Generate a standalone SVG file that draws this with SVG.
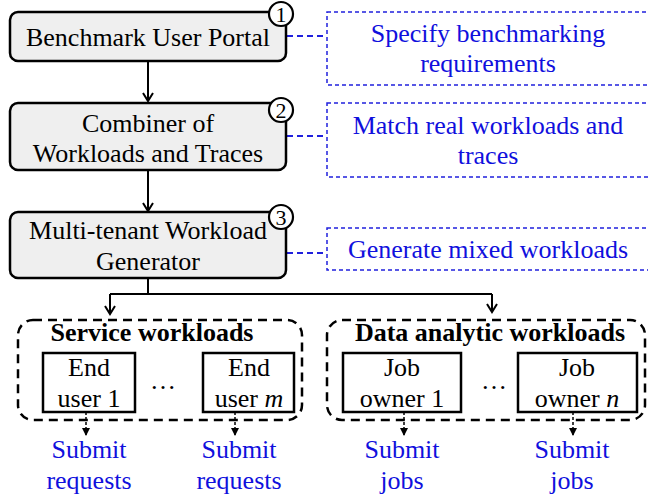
<svg xmlns="http://www.w3.org/2000/svg" width="648" height="497" viewBox="0 0 648 497">
<style>
text{font-family:'Liberation Serif','Times New Roman','DejaVu Serif',serif;font-size:26px;text-anchor:middle}
.main{fill:#efefef;stroke:#000;stroke-width:2.5}
.num{fill:#fff;stroke:#000;stroke-width:2.2}
.numt{font-size:22px}
.blue{fill:#1010dd}
.bbox{fill:none;stroke:#2020dd;stroke-width:1.5;stroke-dasharray:4 3}
.blink{fill:none;stroke:#2020dd;stroke-width:2;stroke-dasharray:6 4}
.grp{fill:none;stroke:#000;stroke-width:2.5;stroke-dasharray:9 6}
.sub{fill:#fff;stroke:#000;stroke-width:2.5}
.bold{font-weight:bold}
.conn{fill:none;stroke:#000;stroke-width:2}
.dconn{fill:none;stroke:#000;stroke-width:1.5;stroke-dasharray:3 2}
</style>
<defs>
<marker id="open" markerWidth="12" markerHeight="12" refX="10" refY="6" orient="auto" markerUnits="userSpaceOnUse">
<path d="M2,1 L10,6 L2,11" fill="none" stroke="#000" stroke-width="2"/>
</marker>
<marker id="tri" markerWidth="10" markerHeight="10" refX="8" refY="5" orient="auto" markerUnits="userSpaceOnUse">
<path d="M0,1 L8,5 L0,9 Z" fill="#000"/>
</marker>
</defs>

<g id="connectors">
<line class="conn" x1="148" y1="61" x2="148" y2="101" marker-end="url(#open)"/>
<line class="conn" x1="148" y1="170" x2="148" y2="211" marker-end="url(#open)"/>
<path class="conn" d="M148,278 V294 M110,294 H492"/>
<line class="conn" x1="110" y1="294" x2="110" y2="314" marker-end="url(#open)"/>
<line class="conn" x1="492" y1="294" x2="492" y2="312" marker-end="url(#open)"/>
<line class="blink" x1="287" y1="36" x2="327" y2="36"/>
<line class="blink" x1="287" y1="136" x2="327" y2="136"/>
<line class="blink" x1="287" y1="253" x2="327" y2="253"/>
<line class="dconn" x1="86" y1="412" x2="86" y2="436" marker-end="url(#tri)"/>
<line class="dconn" x1="235" y1="412" x2="235" y2="436" marker-end="url(#tri)"/>
<line class="dconn" x1="404" y1="412" x2="404" y2="436" marker-end="url(#tri)"/>
<line class="dconn" x1="573" y1="412" x2="573" y2="436" marker-end="url(#tri)"/>
</g>

<g id="portal">
<rect class="main" x="10" y="12" width="276" height="49" rx="8"/>
<text x="148" y="46">Benchmark User Portal</text>
<circle class="num" cx="281" cy="14" r="12"/>
<text class="numt" x="281" y="22">1</text>
</g>

<g id="combiner">
<rect class="main" x="10" y="103" width="276" height="67" rx="8"/>
<text x="148" y="132">Combiner of</text>
<text x="148" y="162">Workloads and Traces</text>
<circle class="num" cx="281" cy="110" r="12"/>
<text class="numt" x="281" y="118">2</text>
</g>

<g id="generator">
<rect class="main" x="10" y="212" width="276" height="66" rx="8"/>
<text x="148" y="239">Multi-tenant Workload</text>
<text x="148" y="270">Generator</text>
<circle class="num" cx="281" cy="217" r="12"/>
<text class="numt" x="281" y="225">3</text>
</g>

<g id="note1">
<rect class="bbox" x="327" y="12" width="330" height="73"/>
<text class="blue" x="488" y="42">Specify benchmarking</text>
<text class="blue" x="488" y="72">requirements</text>
</g>

<g id="note2">
<rect class="bbox" x="327" y="103" width="330" height="74"/>
<text class="blue" x="488" y="134">Match real workloads and</text>
<text class="blue" x="488" y="164">traces</text>
</g>

<g id="note3">
<rect class="bbox" x="327" y="228" width="330" height="42"/>
<text class="blue" x="488" y="258">Generate mixed workloads</text>
</g>

<g id="service">
<rect class="grp" x="18" y="320" width="284" height="100" rx="15"/>
<text class="bold" x="152" y="341">Service workloads</text>
</g>

<g id="enduser1">
<rect class="sub" x="43" y="353" width="92" height="59"/>
<text x="89" y="376">End</text>
<text x="89" y="407">user 1</text>
</g>

<g id="dots1"><text x="163" y="389">…</text></g>

<g id="enduserm">
<rect class="sub" x="203" y="353" width="91" height="59"/>
<text x="249" y="376">End</text>
<text x="249" y="407">user <tspan font-style="italic">m</tspan></text>
</g>

<g id="analytic">
<rect class="grp" x="327" y="320" width="318" height="100" rx="15"/>
<text class="bold" x="490" y="341">Data analytic workloads</text>
</g>

<g id="owner1">
<rect class="sub" x="343" y="353" width="118" height="59"/>
<text x="402" y="376">Job</text>
<text x="402" y="407">owner 1</text>
</g>

<g id="dots2"><text x="494" y="389">…</text></g>

<g id="ownern">
<rect class="sub" x="518" y="353" width="119" height="59"/>
<text x="577" y="376">Job</text>
<text x="577" y="407">owner <tspan font-style="italic">n</tspan></text>
</g>

<g id="out1">
<text class="blue" x="89" y="458">Submit</text>
<text class="blue" x="89" y="489">requests</text>
</g>
<g id="out2">
<text class="blue" x="239" y="458">Submit</text>
<text class="blue" x="239" y="489">requests</text>
</g>
<g id="out3">
<text class="blue" x="402" y="458">Submit</text>
<text class="blue" x="402" y="489">jobs</text>
</g>
<g id="out4">
<text class="blue" x="572" y="458">Submit</text>
<text class="blue" x="572" y="489">jobs</text>
</g>
</svg>
